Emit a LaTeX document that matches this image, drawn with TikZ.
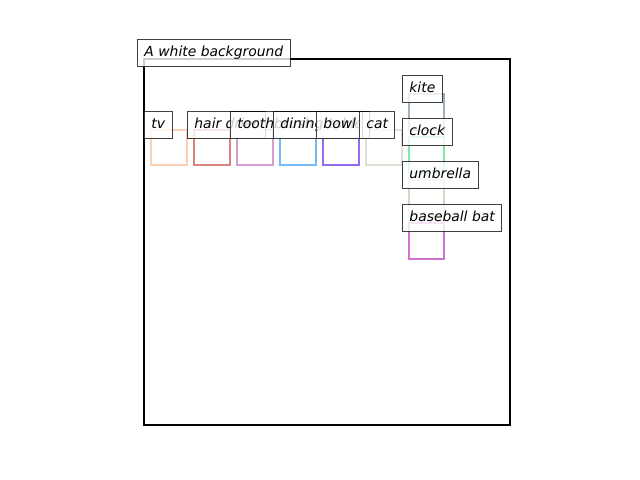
\documentclass[tikz,border=0pt]{standalone}
\usepackage{fontspec}
\setmainfont{DejaVu Sans}
\definecolor{ctv}{RGB}{252,208,180}
\definecolor{chair}{RGB}{214,134,126}
\definecolor{ctooth}{RGB}{214,158,208}
\definecolor{cdining}{RGB}{116,186,250}
\definecolor{cbowl}{RGB}{148,106,238}
\definecolor{ccat}{RGB}{222,224,214}
\definecolor{ckite}{RGB}{160,176,188}
\definecolor{cclock}{RGB}{128,232,168}
\definecolor{cumb}{RGB}{214,214,196}
\definecolor{cbat}{RGB}{208,112,208}
\begin{document}
\begin{tikzpicture}[x=0.72pt,y=-0.72pt,
  lbl/.style={draw=black, draw opacity=0.75, fill=white, fill opacity=0.8, text opacity=1,
    inner sep=5pt, text height=7.3pt, text depth=2pt, font=\itshape, anchor=south west,
    line width=0.7pt},
  obj/.style={line width=1.5pt}]
\useasboundingbox (0,0) rectangle (640,480);
\draw[line width=1.5pt] (144,59) rectangle (510,425);
% object boxes
\draw[obj, ctv] (151,130) rectangle (187,165);
\draw[obj, chair] (194,130) rectangle (230,165);
\draw[obj, ctooth] (237,130) rectangle (273,165);
\draw[obj, cdining] (280,130) rectangle (316,165);
\draw[obj, cbowl] (323,130) rectangle (359,165);
\draw[obj, ccat] (366,130) rectangle (402,165);
\draw[obj, ckite] (409,94) rectangle (444,130);
\draw[obj, cclock] (409,137) rectangle (444,173);
\draw[obj, cumb] (409,180) rectangle (444,216);
\draw[obj, cbat] (409,223) rectangle (444,259);
% labels
\node[lbl] (bg) at (137,67) {A white background};
\node[lbl] (tv) at (144,139) {tv};
\node[lbl] (hair) at (187,139) {hair drier};
\node[lbl] (tooth) at (230,139) {toothbrush};
\node[lbl] (dining) at (273,139) {dining table};
\node[lbl] (bowl) at (316,139) {bowl};
\node[lbl] (cat) at (359,139) {cat};
\node[lbl] (kite) at (402,103) {kite};
\node[lbl] (clock) at (402,146) {clock};
\node[lbl] (umb) at (402,189) {umbrella};
\node[lbl] (bat) at (402,232) {baseball bat};
\end{tikzpicture}
\end{document}
